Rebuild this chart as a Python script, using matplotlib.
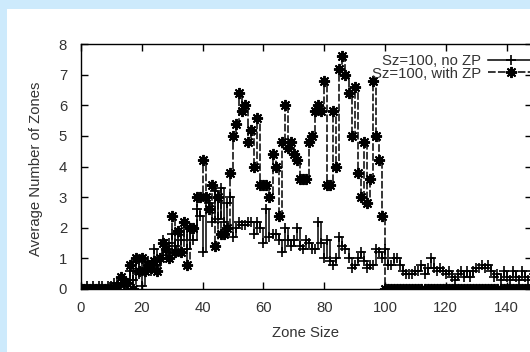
import numpy as np
import matplotlib
matplotlib.use("Agg")
from matplotlib import pyplot as plt
from matplotlib.patches import Rectangle

# zone sizes 0..150
zone_size = list(range(0, 151))

# Sz=100, no ZP
no_zp = [
    0.0, 0.0, 0.1, 0.0, 0.1, 0.0, 0.1, 0.1, 0.0, 0.1,
    0.1, 0.2, 0.2, 0.1, 0.3, 0.2, 0.6, 0.3, 0.9, 0.5,
    0.1, 0.7, 0.9, 0.6, 1.3, 0.8, 1.0, 1.6, 1.2, 1.5,
    1.8, 1.4, 1.9, 1.6, 2.2, 1.3, 2.0, 1.6, 2.6, 2.4,
    1.2, 3.0, 2.8, 2.2, 3.2, 2.3, 3.3, 2.2, 2.8, 3.0,
    1.7, 2.0, 2.2, 2.1, 2.1, 2.2, 2.2, 1.8, 2.2, 2.0,
    1.5, 2.6, 1.7, 1.8, 1.8, 1.6, 1.2, 2.0, 1.6, 1.4,
    1.6, 2.0, 1.4, 1.3, 1.6, 1.5, 1.3, 1.3, 2.2, 1.5,
    1.0, 1.6, 0.9, 0.8, 1.0, 1.7, 1.4, 1.3, 1.0, 0.7,
    0.8, 1.0, 1.2, 0.9, 0.7, 0.8, 0.8, 1.3, 1.2, 1.0,
    1.3, 0.8, 0.8, 1.0, 1.0, 0.8, 0.6, 0.5, 0.5, 0.5,
    0.6, 0.6, 0.8, 0.5, 0.7, 1.0, 0.7, 0.6, 0.7, 0.6,
    0.5, 0.6, 0.4, 0.3, 0.5, 0.6, 0.4, 0.6, 0.4, 0.6,
    0.7, 0.7, 0.8, 0.7, 0.8, 0.6, 0.4, 0.5, 0.3, 0.6,
    0.4, 0.3, 0.6, 0.4, 0.3, 0.6, 0.4, 0.3, 0.6, 0.5,
    0.4,
]

# Sz=100, with ZP
with_zp = [
    0.0, 0.0, 0.0, 0.0, 0.0, 0.0, 0.0, 0.0, 0.0, 0.0,
    0.0, 0.0, 0.1, 0.4, 0.2, 0.2, 0.8, 0.0, 1.0, 0.6,
    1.0, 0.6, 0.8, 0.7, 0.9, 0.6, 1.0, 1.5, 1.3, 1.0,
    2.4, 1.2, 1.9, 1.2, 2.2, 0.8, 2.0, 2.0, 3.0, 3.0,
    4.2, 3.0, 2.6, 3.4, 1.4, 3.0, 1.8, 1.8, 2.0, 3.8,
    5.0, 5.4, 6.4, 5.8, 6.0, 4.8, 5.2, 4.0, 5.6, 3.4,
    3.4, 3.4, 3.0, 4.4, 4.0, 2.4, 4.8, 6.0, 4.6, 4.8,
    4.4, 4.2, 3.6, 3.6, 3.6, 4.8, 5.0, 5.8, 6.0, 5.8,
    6.8, 3.4, 3.4, 5.8, 4.0, 7.2, 7.6, 7.0, 6.4, 5.0,
    6.6, 3.8, 3.0, 4.8, 2.8, 3.6, 6.8, 5.0, 4.2, 2.4,
] + [0.0] * 51

x_ticks = [0, 20, 40, 60, 80, 100, 120, 140]
y_ticks = [0, 1, 2, 3, 4, 5, 6, 7, 8]

plt.rcParams['font.family'] = ['Liberation Sans', 'DejaVu Sans']
plt.rcParams['font.size'] = 10.7

W, H = 530, 352
fig = plt.figure(figsize=(W / 100, H / 100), dpi=100)
fig.patch.set_facecolor('#cdeafc')
# white page behind the chart
fig.patches.append(Rectangle((7 / W, 0), 1, (H - 9) / H, transform=fig.transFigure,
                             facecolor='white', edgecolor='none', zorder=-5))

x_max = 148.5
px_per_unit = 3.04
ax = fig.add_axes([81 / W, (H - 289) / H, x_max * px_per_unit / W, 245 / H])
ax.set_zorder(1)

ax.plot(zone_size, no_zp, color='black', lw=1.1, drawstyle='steps-post',
        marker='+', ms=7, mew=1.2, label='Sz=100, no ZP')
ax.plot(zone_size, with_zp, color='black', lw=1.1, ls=(0, (5, 1.5)), drawstyle='steps-post',
        marker=(8, 2, 0), ms=8, mew=1.4, label='Sz=100, with ZP')

ax.set_xlim(0, x_max)
ax.set_ylim(0, 8)
ax.set_xticks(x_ticks)
ax.set_yticks(y_ticks)
ax.tick_params(direction='in', length=5, width=1.0, top=True, right=True,
               labelcolor='#333333', colors='black')
ax.tick_params(axis='x', pad=9)
ax.tick_params(axis='y', pad=10)
for s in ax.spines.values():
    s.set_linewidth(1.0)

ax.set_xlabel('Zone Size', color='#333333')
ax.set_ylabel('Average Number of Zones', color='#333333')
ax.xaxis.set_label_coords(0.498, -0.15)
ax.yaxis.set_label_coords(-0.084, 0.49)

leg = ax.legend(loc='upper right', bbox_to_anchor=(533 / W, (H - 54) / H),
                bbox_transform=fig.transFigure, frameon=False, markerfirst=False,
                handlelength=3.0, handletextpad=0.5, labelspacing=-0.1,
                borderpad=0, borderaxespad=0)
for t in leg.get_texts():
    t.set_color('#333333')

fig.savefig('out.png', dpi=100, facecolor=fig.get_facecolor())
